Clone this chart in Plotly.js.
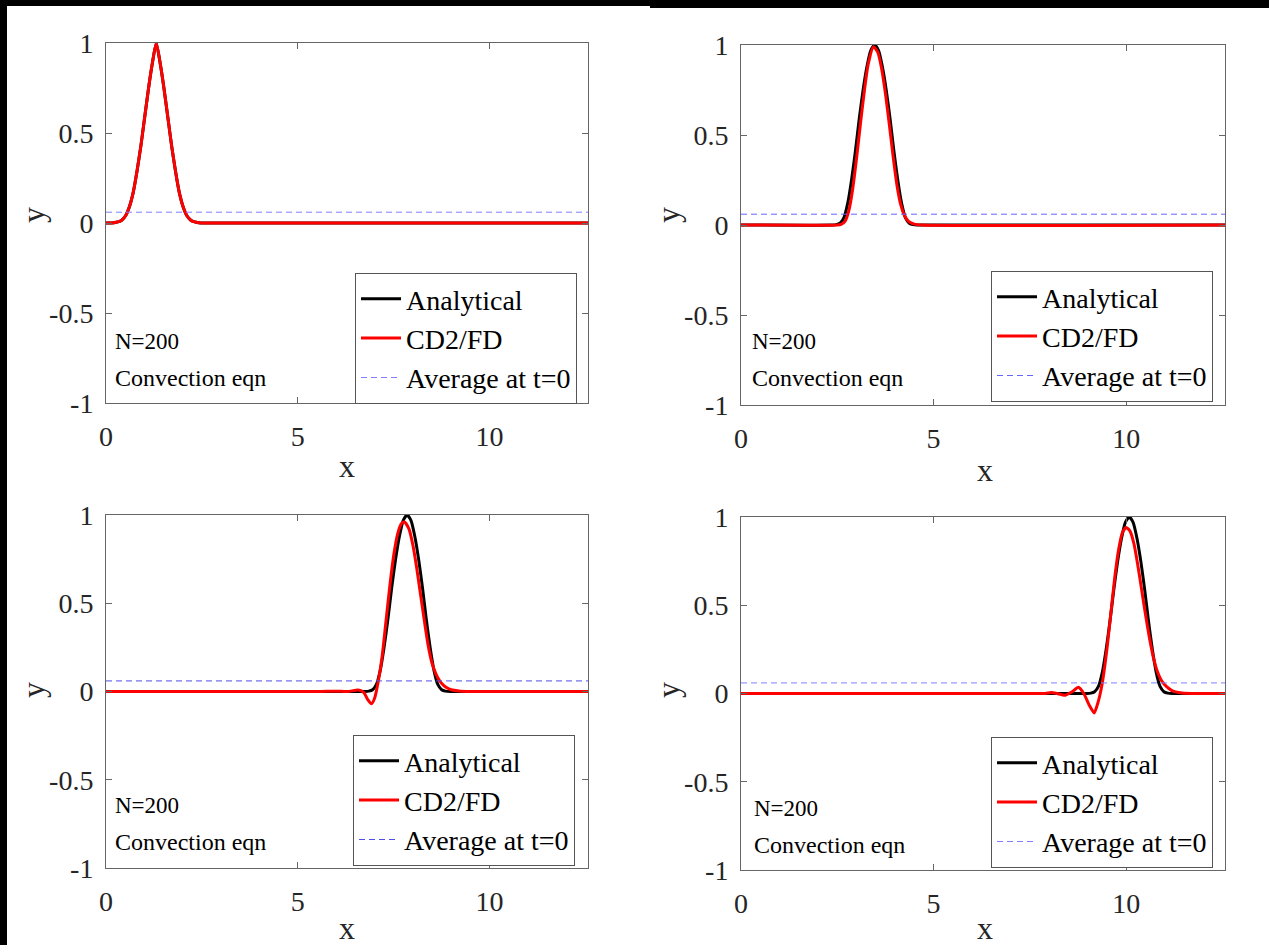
<!DOCTYPE html>
<html>
<head>
<meta charset="utf-8">
<script src="https://cdn.plot.ly/plotly-3.0.1.min.js"></script>
<style>
  html, body { margin: 0; padding: 0; background: #ffffff; }
  #wrap { position: relative; width: 1269px; height: 945px; overflow: hidden; }
  #chart { position: absolute; left: 0; top: 0; width: 1269px; height: 945px; }
  .bar { position: absolute; background: #000; pointer-events: none; }
</style>
</head>
<body>
<div id="wrap">
  <div id="chart"></div>
  <div class="bar" style="left:0;top:0;width:650px;height:6px;"></div>
  <div class="bar" style="left:650px;top:0;width:619px;height:8px;"></div>
  <div class="bar" style="left:0;top:0;width:7px;height:945px;"></div>
</div>
<script>
// ---------------- data ----------------
const xMax = 12.566;
const avgX = [0, 12.566];
const avgY = [0.06, 0.06];

// Panel 1 (t = 0): analytical and CD2/FD coincide
const p1AnaX = [0, 0.21, 0.31, 0.41, 0.51, 0.61, 0.71, 0.81, 0.91, 1.01, 1.11, 1.21, 1.31, 1.41, 1.51, 1.61, 1.71, 1.81, 1.91, 2.01, 2.11, 2.21, 2.31, 2.41, 2.6, 12.566];
const p1AnaY = [0.0, 0.002, 0.006, 0.015, 0.04, 0.09, 0.17, 0.29, 0.43, 0.59, 0.75, 0.89, 1.0, 0.89, 0.75, 0.59, 0.43, 0.29, 0.17, 0.09, 0.04, 0.015, 0.006, 0.002, 0.0, 0.0];
const p1NumX = [0, 0.21, 0.31, 0.41, 0.51, 0.61, 0.71, 0.81, 0.91, 1.01, 1.11, 1.21, 1.31, 1.41, 1.51, 1.61, 1.71, 1.81, 1.91, 2.01, 2.11, 2.21, 2.31, 2.41, 2.6, 12.566];
const p1NumY = [0.0, 0.002, 0.006, 0.015, 0.04, 0.09, 0.17, 0.29, 0.43, 0.59, 0.75, 0.89, 1.0, 0.89, 0.75, 0.59, 0.43, 0.29, 0.17, 0.09, 0.04, 0.015, 0.006, 0.002, 0.0, 0.0];

// Panel 2
const p2AnaX = [0, 2.37, 2.47, 2.57, 2.67, 2.77, 2.87, 2.97, 3.07, 3.17, 3.27, 3.37, 3.47, 3.57, 3.67, 3.77, 3.87, 3.97, 4.07, 4.17, 4.27, 4.37, 4.47, 4.57, 12.566];
const p2AnaY = [0.0, 0.0, 0.002, 0.01, 0.04, 0.12, 0.25, 0.41, 0.59, 0.75, 0.88, 0.97, 1.0, 0.97, 0.88, 0.75, 0.59, 0.41, 0.25, 0.12, 0.04, 0.01, 0.002, 0.0, 0.0];
const p2NumX = [0, 2.5, 2.6, 2.7, 2.8, 2.9, 3.0, 3.1, 3.2, 3.3, 3.44, 3.55, 3.65, 3.75, 3.85, 3.95, 4.05, 4.15, 4.25, 4.35, 4.5, 4.7, 12.566];
const p2NumY = [0.0, 0.0, 0.003, 0.02, 0.08, 0.2, 0.37, 0.56, 0.74, 0.89, 0.99, 0.96, 0.87, 0.73, 0.56, 0.38, 0.22, 0.11, 0.05, 0.02, 0.005, 0.0, 0.0];

// Panel 3
const p3AnaX = [0, 6.75, 6.85, 6.95, 7.05, 7.15, 7.25, 7.35, 7.45, 7.55, 7.65, 7.75, 7.85, 7.95, 8.05, 8.15, 8.25, 8.35, 8.45, 8.55, 8.65, 8.75, 8.85, 9.0, 12.566];
const p3AnaY = [0.0, 0.0, 0.002, 0.01, 0.04, 0.12, 0.25, 0.41, 0.59, 0.75, 0.88, 0.97, 1.0, 0.97, 0.88, 0.75, 0.59, 0.41, 0.25, 0.12, 0.04, 0.01, 0.002, 0.0, 0.0];
const p3NumX = [0, 5.5, 6.0, 6.3, 6.58, 6.72, 6.82, 6.92, 7.0, 7.1, 7.2, 7.3, 7.4, 7.5, 7.6, 7.7, 7.78, 7.9, 8.0, 8.1, 8.2, 8.3, 8.4, 8.5, 8.6, 8.7, 8.8, 8.9, 9.0, 9.2, 9.5, 12.566];
const p3NumY = [0.0, 0.0, 0.002, 0.0, 0.008, -0.005, -0.045, -0.07, -0.04, 0.06, 0.2, 0.4, 0.6, 0.77, 0.89, 0.95, 0.96, 0.92, 0.83, 0.7, 0.55, 0.4, 0.26, 0.16, 0.1, 0.06, 0.035, 0.02, 0.01, 0.003, 0.0, 0.0];

// Panel 4
const p4AnaX = [0, 8.98, 9.08, 9.18, 9.28, 9.38, 9.48, 9.58, 9.68, 9.78, 9.88, 9.98, 10.08, 10.18, 10.28, 10.38, 10.48, 10.58, 10.68, 10.78, 10.88, 10.98, 11.08, 11.2, 12.566];
const p4AnaY = [0.0, 0.0, 0.002, 0.01, 0.04, 0.12, 0.25, 0.41, 0.59, 0.75, 0.88, 0.97, 1.0, 0.97, 0.88, 0.75, 0.59, 0.41, 0.25, 0.12, 0.04, 0.01, 0.002, 0.0, 0.0];
const p4NumX = [0, 7.5, 7.9, 8.06, 8.2, 8.42, 8.6, 8.76, 8.9, 9.05, 9.17, 9.27, 9.38, 9.5, 9.6, 9.7, 9.8, 9.9, 10.0, 10.1, 10.2, 10.3, 10.4, 10.5, 10.6, 10.7, 10.8, 10.9, 11.0, 11.1, 11.2, 11.4, 11.7, 12.566];
const p4NumY = [0.0, 0.0, 0.0, 0.005, 0.0, -0.01, 0.01, 0.035, 0.0, -0.07, -0.11, -0.05, 0.06, 0.25, 0.45, 0.65, 0.81, 0.91, 0.94, 0.92, 0.85, 0.73, 0.59, 0.45, 0.32, 0.21, 0.13, 0.08, 0.05, 0.03, 0.015, 0.004, 0.0, 0.0];

const traceNames = ["Analytical", "CD2/FD", "Average at t=0"];
const xTickVals = [0, 5, 10];
const yTickVals = [-1, -0.5, 0, 0.5, 1];
const yTickText = ["-1", "-0.5", "0", "0.5", "1"];
const note1 = "N=200";
const note2 = "Convection eqn";

// ---------------- layout helpers ----------------
const W = 1269, H = 945;
const panels = [
  {ax: "", ana: [p1AnaX, p1AnaY], num: [p1NumX, p1NumY], box: [106, 588, 43, 403], leg: [577, 338.5], avgColor: "#7f7fff",
   notes: [113, 341, 378], ylab: [33, 215], xlab: [347, 466]},
  {ax: "2", ana: [p2AnaX, p2AnaY], num: [p2NumX, p2NumY], box: [741, 1225, 45, 405], leg: [1213, 336.5], avgColor: "#6666ff",
   notes: [750, 341, 378], ylab: [668, 215], xlab: [985, 470]},
  {ax: "3", ana: [p3AnaX, p3AnaY], num: [p3NumX, p3NumY], box: [106, 588, 515, 868], leg: [575, 800.5], avgColor: "#5050e8",
   notes: [113, 805, 842], ylab: [33, 690], xlab: [347, 928]},
  {ax: "4", ana: [p4AnaX, p4AnaY], num: [p4NumX, p4NumY], box: [741, 1225, 517, 870], leg: [1213, 802.5], avgColor: "#7f7fff",
   notes: [752, 808, 845], ylab: [668, 690], xlab: [985, 928]}
];

const serif = "Liberation Serif, Times New Roman, serif";
const traces = [];
const layout = {
  width: W, height: H,
  margin: {l: 0, r: 0, t: 0, b: 0},
  paper_bgcolor: "#ffffff",
  plot_bgcolor: "#ffffff",
  font: {family: serif, color: "#262626"},
  annotations: [],
  showlegend: true
};

panels.forEach((p, i) => {
  const xa = "x" + p.ax, ya = "y" + p.ax;
  const legName = i === 0 ? "legend" : "legend" + (i + 1);
  traces.push({x: p.ana[0], y: p.ana[1], xaxis: xa, yaxis: ya, type: "scatter", mode: "lines",
    name: traceNames[0], legend: legName, line: {color: "#000000", width: 3, shape: "spline", smoothing: 0.6}});
  traces.push({x: p.num[0], y: p.num[1], xaxis: xa, yaxis: ya, type: "scatter", mode: "lines",
    name: traceNames[1], legend: legName, line: {color: "#ff0000", width: 3, shape: "spline", smoothing: 0.6}});
  traces.push({x: avgX, y: avgY, xaxis: xa, yaxis: ya, type: "scatter", mode: "lines",
    name: traceNames[2], legend: legName, line: {color: p.avgColor, width: 1, dash: "6px,4px"}});

  const [l, r, t, b] = p.box;
  const axCommon = {showline: true, mirror: "ticks", linecolor: "#666666", linewidth: 1,
    ticks: "inside", ticklen: 6, tickcolor: "#666666", showgrid: false, zeroline: false,
    tickfont: {family: serif, size: 28, color: "#262626"}, fixedrange: true};
  layout["xaxis" + p.ax] = Object.assign({}, axCommon, {
    domain: [l / W, r / W], range: [0, xMax], tickmode: "array", tickvals: xTickVals,
    ticktext: xTickVals.map(String), anchor: ya, ticklabelstandoff: 8});
  layout["yaxis" + p.ax] = Object.assign({}, axCommon, {
    domain: [1 - b / H, 1 - t / H], range: [-1, 1], tickmode: "array", tickvals: yTickVals,
    ticktext: yTickText, anchor: xa, ticklabelstandoff: 6});

  layout[legName] = {x: p.leg[0] / W, y: 1 - p.leg[1] / H, xanchor: "right", yanchor: "middle",
    xref: "paper", yref: "paper", bgcolor: "#ffffff", bordercolor: "#555555", borderwidth: 1,
    font: {family: serif, size: 28, color: "#000000"}, tracegroupgap: 0, itemwidth: 40};

  layout.annotations.push(
    {text: note1, xref: "paper", yref: "paper", x: p.notes[0] / W, y: 1 - p.notes[1] / H,
     xanchor: "left", yanchor: "middle", showarrow: false, font: {family: serif, size: 23, color: "#000000"}},
    {text: note2, xref: "paper", yref: "paper", x: p.notes[0] / W, y: 1 - p.notes[2] / H,
     xanchor: "left", yanchor: "middle", showarrow: false, font: {family: serif, size: 24, color: "#000000"}},
    {text: "y", xref: "paper", yref: "paper", x: p.ylab[0] / W, y: 1 - p.ylab[1] / H,
     xanchor: "center", yanchor: "middle", textangle: -90, showarrow: false, font: {family: serif, size: 32, color: "#262626"}},
    {text: "x", xref: "paper", yref: "paper", x: p.xlab[0] / W, y: 1 - p.xlab[1] / H,
     xanchor: "center", yanchor: "middle", showarrow: false, font: {family: serif, size: 32, color: "#262626"}}
  );
});

Plotly.newPlot("chart", traces, layout, {displayModeBar: false, staticPlot: true});
</script>
</body>
</html>
